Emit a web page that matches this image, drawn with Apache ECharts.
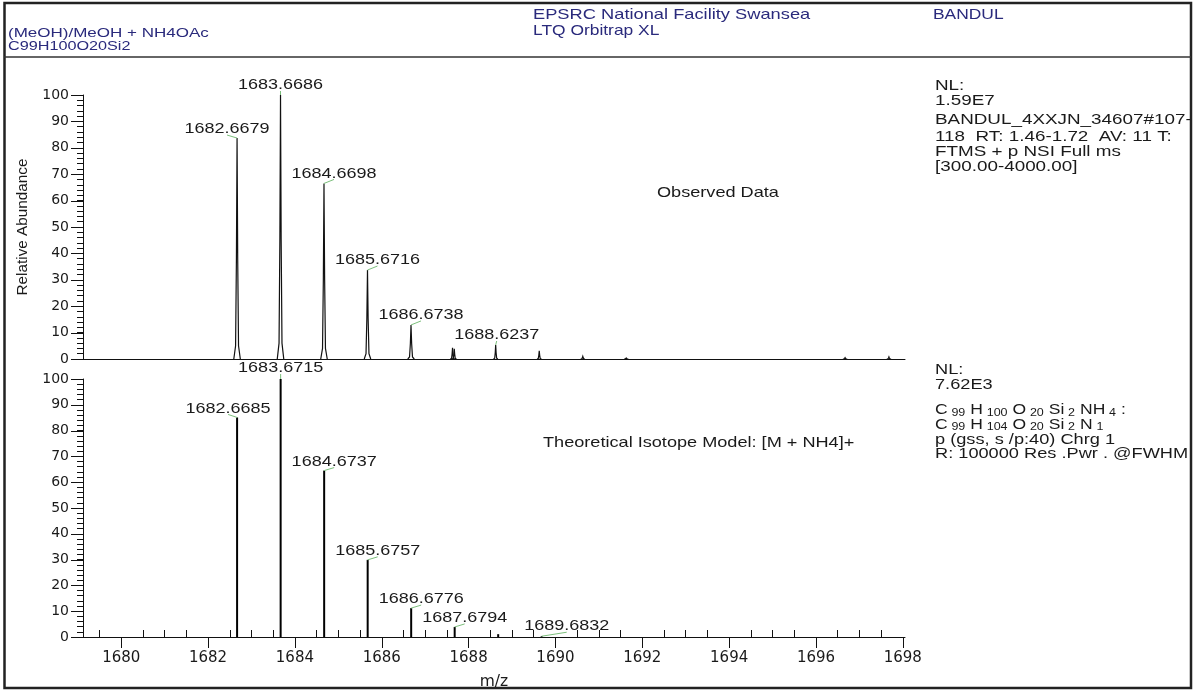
<!DOCTYPE html>
<html>
<head>
<meta charset="utf-8">
<script src="https://cdn.jsdelivr.net/npm/echarts@6/dist/echarts.min.js"></script>
<style>html,body{margin:0;padding:0;background:#fff}#c{width:1197px;height:691px}</style>
</head>
<body>
<div id="c"></div>
<script>
// ---------- data ----------
const xMin = 1679.12, xMax = 1698.05;
const xMajorTicks = [1680, 1682, 1684, 1686, 1688, 1690, 1692, 1694, 1696, 1698];
const yMin = 0, yMax = 100, yInterval = 10;
const yMajorTicks = [0, 10, 20, 30, 40, 50, 60, 70, 80, 90, 100];

// Observed data (profile peaks)
const obsMz  = [1682.6679, 1683.6686, 1684.6698, 1685.6716, 1686.6738, 1687.63, 1687.67, 1688.6237, 1689.627, 1690.63, 1691.63, 1696.67, 1697.68];
const obsInt = [83.7, 100, 66.5, 33.7, 12.9, 4.2, 3.9, 5.3, 3.1, 1.0, 0.4, 0.5, 0.8];
const obsLabeled = [true, true, true, true, true, false, false, true, false, false, false, false, false];

// Theoretical isotope model (stick peaks)
const theoMz  = [1682.6685, 1683.6715, 1684.6737, 1685.6757, 1686.6776, 1687.6794, 1688.6813, 1689.6832];
const theoInt = [85.1, 100, 64.5, 29.9, 11.2, 3.9, 1.1, 0.3];
const theoLabeled = [true, true, true, true, true, true, false, true];

// ---------- style (label placement relative to peak apex, px) ----------
const obsLabelDx  = [-10, 0, 10, 10, 10, 0, 0, 1, 0, 0, 0, 0, 0];
const obsLabelDy  = [-9, -10, -10, -10, -10, -10, -10, -10, -10, -10, -10, -10, -10];
const theoLabelDx = [-9, 0, 10, 10, 10, 10, 0, 25];
const theoLabelDy = [-9, -11, -9, -9, -9, -9, -9, -10];

const SANS = "'Liberation Sans', Arial, sans-serif";
const WIDE = "'DejaVu Sans', sans-serif";
const NAVY = '#2a2a7c';
const INK = '#1a1a1a';
const STRETCH = 1.2;

const xMinorTicks = [];
for (let v = 1679.5; v <= 1698.001; v += 0.5) { if (v % 2 !== 0) xMinorTicks.push(v); }
const yAllTicks = [];
for (let v = 0; v <= 100; v += 2) yAllTicks.push(v);

// peak profile outline (fraction of half-width, fraction of height) – drawing style only
const profileShape = [[-1, 0], [-0.45, 0.06], [-0.2, 0.45], [0, 1], [0.2, 0.45], [0.45, 0.06], [1, 0]];

function peakRenderer(labeled, dxArr, dyArr, mode) {
  return function (params, api) {
    const i = params.dataIndex;
    const mz = api.value(0), h = api.value(1);
    const top = api.coord([mz, h]);
    const children = [];
    if (mode === 'profile') {
      const w = h > 10 ? 0.075 : 0.05;
      const pts = profileShape.map(p => api.coord([mz + p[0] * w, p[1] * h]));
      children.push({type: 'polyline', shape: {points: pts},
        style: {stroke: '#111', lineWidth: 1.2, fill: null}});
    } else {
      const base = api.coord([mz, 0]);
      children.push({type: 'line', shape: {x1: top[0], y1: base[1], x2: top[0], y2: top[1]},
        style: {stroke: '#000', lineWidth: 2}});
    }
    if (labeled[i]) {
      const lx = top[0] + dxArr[i], ly = top[1] + dyArr[i];
      children.push({type: 'line', shape: {x1: top[0], y1: top[1], x2: lx, y2: ly + 6},
        style: {stroke: '#7cbf7c', lineWidth: 1}});
      children.push({type: 'text', x: lx, y: ly, scaleX: STRETCH,
        style: {text: mz.toFixed(4), fontSize: 15, fontFamily: SANS, fill: INK,
                align: 'center', verticalAlign: 'middle'}});
    }
    return {type: 'group', children};
  };
}

function txt(x, y, text, size, sx, color, rich) {
  const st = {text, fontSize: size, fontFamily: SANS, fill: color, verticalAlign: 'middle', align: 'left'};
  if (rich) st.rich = rich;
  return {type: 'text', x, y, scaleX: sx, style: st, z: 10};
}

const subRich = {
  s: {fontSize: 10, fontFamily: SANS, fill: INK, verticalAlign: 'bottom', lineHeight: 15, padding: [0, 4, 0, 3]}
};

const chart = echarts.init(document.getElementById('c'), null, {renderer: 'canvas'});

// y axis: every tick (step 2) drawn short by the axis itself; labels every 10
const yAxisMain = {
  type: 'value', position: 'left', min: yMin, max: yMax, interval: yInterval,
  axisLine: {show: true, lineStyle: {color: '#111', width: 1}},
  axisTick: {show: true, length: 6, customValues: yAllTicks, lineStyle: {color: '#111', width: 1}},
  splitLine: {show: false},
  axisLabel: {fontSize: 14, fontFamily: WIDE, color: INK, margin: 14, customValues: yMajorTicks}
};
const xFmt = v => String(v);

const staticGraphics = [
  {type: 'rect', shape: {x: 4.5, y: 3, width: 1186.5, height: 685}, style: {fill: null, stroke: '#222', lineWidth: 2.5}, z: 20},
  {type: 'line', shape: {x1: 4, y1: 57, x2: 1191, y2: 57}, style: {stroke: '#333', lineWidth: 1.5}, z: 20},
  txt(8, 33, '(MeOH)/MeOH + NH4OAc', 13.5, 1.26, NAVY),
  txt(8, 46.5, 'C99H100O20Si2', 13.5, 1.2, NAVY),
  txt(533, 15, 'EPSRC National Facility Swansea', 14.5, 1.26, NAVY),
  txt(533, 31, 'LTQ Orbitrap XL', 14.5, 1.2, NAVY),
  txt(933, 15, 'BANDUL', 14.5, 1.2, NAVY),
  txt(935, 85.5, 'NL:', 14.5, 1.3, INK),
  txt(935, 100.5, '1.59E7', 14.5, 1.3, INK),
  txt(935, 120, 'BANDUL_4XXJN_34607#107-', 14.5, 1.3, INK),
  txt(935, 136.5, '118  RT: 1.46-1.72  AV: 11 T:', 14.5, 1.3, INK),
  txt(935, 151.5, 'FTMS + p NSI Full ms', 14.5, 1.3, INK),
  txt(935, 166.5, '[300.00-4000.00]', 14.5, 1.3, INK),
  txt(657, 193, 'Observed Data', 14.5, 1.25, INK),
  txt(935, 370.5, 'NL:', 14, 1.3, INK),
  txt(935, 385.5, '7.62E3', 14, 1.3, INK),
  txt(935, 410.5, 'C{s|99}H{s|100}O{s|20}Si{s|2}NH{s|4}:', 14, 1.25, INK, subRich),
  txt(935, 425, 'C{s|99}H{s|104}O{s|20}Si{s|2}N{s|1}', 14, 1.25, INK, subRich),
  txt(935, 440, 'p (gss, s /p:40) Chrg 1', 14, 1.3, INK),
  txt(935, 454, 'R: 100000 Res .Pwr . @FWHM', 14, 1.3, INK),
  txt(543, 443, 'Theoretical Isotope Model: [M + NH4]+', 14.5, 1.25, INK)
];

chart.setOption({
  animation: false,
  backgroundColor: '#fff',
  grid: [
    {left: 83, top: 95, width: 822, height: 264},
    {left: 83, top: 379, width: 822, height: 264}
  ],
  xAxis: [
    {type: 'value', gridIndex: 0, min: xMin, max: xMax,
     axisLine: {show: true, onZero: false, lineStyle: {color: '#111', width: 1}},
     axisTick: {show: false}, axisLabel: {show: false}, splitLine: {show: false}},
    {type: 'value', gridIndex: 1, min: xMin, max: xMax,
     name: 'm/z', nameLocation: 'middle', nameGap: 37,
     nameTextStyle: {fontSize: 15.5, fontFamily: WIDE, color: INK},
     axisLine: {show: true, onZero: false, lineStyle: {color: '#111', width: 1}},
     axisTick: {show: true, length: 11, customValues: xMajorTicks, lineStyle: {color: '#111', width: 1}},
     axisLabel: {show: true, customValues: xMajorTicks, formatter: xFmt, fontSize: 15, fontFamily: WIDE, color: INK, margin: 14},
     splitLine: {show: false}},
    {type: 'value', gridIndex: 1, min: xMin, max: xMax,
     axisLine: {show: false},
     axisTick: {show: true, length: 7, customValues: xMinorTicks, lineStyle: {color: '#111', width: 1}},
     axisLabel: {show: false}, splitLine: {show: false}}
  ],
  yAxis: [
    Object.assign({}, yAxisMain, {gridIndex: 0, name: 'Relative Abundance', nameLocation: 'middle',
      nameGap: 53, nameRotate: 90, nameTextStyle: {fontSize: 15.3, fontFamily: SANS, color: INK}}),
    Object.assign({}, yAxisMain, {gridIndex: 1})
  ],
  series: [
    {type: 'custom', xAxisIndex: 0, yAxisIndex: 0, clip: false,
     renderItem: peakRenderer(obsLabeled, obsLabelDx, obsLabelDy, 'profile'),
     data: obsMz.map((m, i) => [m, obsInt[i]])},
    {type: 'custom', xAxisIndex: 1, yAxisIndex: 1, clip: false,
     renderItem: peakRenderer(theoLabeled, theoLabelDx, theoLabelDy, 'stick'),
     data: theoMz.map((m, i) => [m, theoInt[i]])}
  ],
  graphic: staticGraphics
});

// longer major y ticks, positioned through each grid's own scale
const majorTickGraphics = [];
[0, 1].forEach(g => {
  yMajorTicks.forEach(v => {
    const p = chart.convertToPixel({gridIndex: g}, [xMin, v]);
    if (p && isFinite(p[0]) && isFinite(p[1])) {
      const yy = Math.round(p[1]) + 0.5;
      majorTickGraphics.push({type: 'line', z: 30,
        shape: {x1: Math.round(p[0]) - 12, y1: yy, x2: Math.round(p[0]), y2: yy},
        style: {stroke: '#111', lineWidth: 1}});
    }
  });
});
chart.setOption({graphic: staticGraphics.concat(majorTickGraphics)});
</script>
</body>
</html>
